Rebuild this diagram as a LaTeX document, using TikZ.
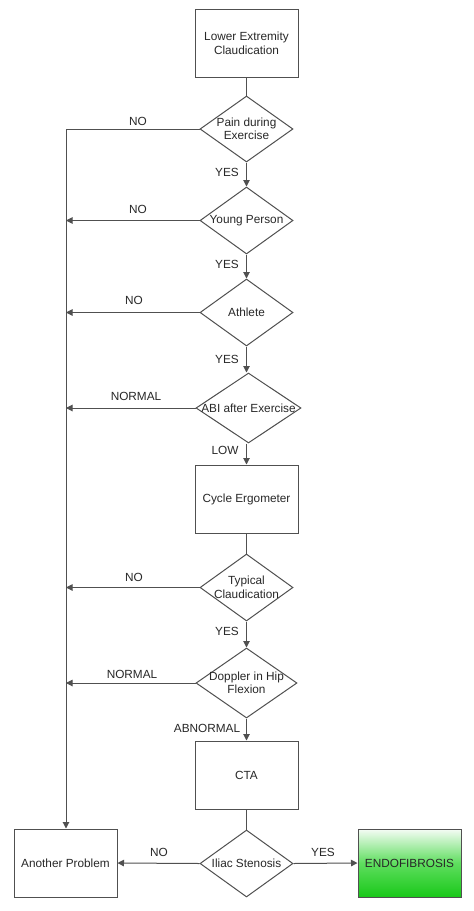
\documentclass[tikz,border=0pt]{standalone}
\usepackage{fontspec}
\setmainfont{Liberation Sans}
\usetikzlibrary{shapes.geometric,arrows.meta}
\definecolor{ln}{RGB}{80,80,80}
\definecolor{tx}{RGB}{40,40,40}
\definecolor{gtop}{RGB}{245,252,245}
\definecolor{gmid}{RGB}{95,222,95}
\definecolor{gbot}{RGB}{25,200,25}
\tikzset{
  box/.style={draw=ln,line width=1pt,minimum width=103pt,minimum height=68pt,inner sep=0pt},
  dia/.style={draw=ln,line width=1pt,diamond,inner sep=0pt,minimum width=93pt,minimum height=66pt},
  lbl/.style={text=tx,font=\fontsize{11.8}{13.5}\selectfont,inner sep=0pt,align=center},
  conn/.style={draw=ln,line width=1pt},
  arr/.style={conn,-{Triangle[length=6.5pt,width=6.5pt]}}
}
\begin{document}
\begin{tikzpicture}[x=1pt,y=-1pt]
\useasboundingbox (0,0) rectangle (474,911);
\fill[white] (0,0) rectangle (474,911);
% nodes
\node[box] (b1) at (246.5,43.5) {};
\node[lbl] (b1t) at (b1.center) {Lower Extremity\\Claudication};
\node[dia] (d1) at (246.5,129) {};
\node[lbl] (d1t) at (d1.center) {Pain during\\Exercise};
\node[dia,minimum height=67pt] (d2) at (246.5,220.5) {};
\node[lbl] (d2t) at (d2.center) {Young Person};
\node[dia,minimum height=67pt] (d3) at (246.5,312.5) {};
\node[lbl] (d3t) at (d3.center) {Athlete};
\node[dia,minimum width=105pt,minimum height=70pt] (d4) at (248.5,408) {};
\node[lbl] (d4t) at (d4.center) {ABI after Exercise};
\node[box] (b2) at (246.5,499) {};
\node[lbl] (b2t) at (b2.center) {Cycle Ergometer};
\node[dia,minimum height=67pt] (d5) at (246.5,587.5) {};
\node[lbl] (d5t) at (d5.center) {Typical\\Claudication};
\node[dia,minimum width=101pt,minimum height=70pt] (d6) at (246.5,683) {};
\node[lbl] (d6t) at (d6.center) {Doppler in Hip\\Flexion};
\node[box] (b3) at (246.5,775) {};
\node[lbl] (b3t) at (b3.center) {CTA};
\node[dia,minimum height=67pt] (d7) at (246.5,863.5) {};
\node[lbl] (d7t) at (d7.center) {Iliac Stenosis};
\node[box] (ap) at (65.5,863) {};
\node[lbl] (apt) at (ap.center) {Another Problem};
\node[box,top color=gtop,bottom color=gbot,middle color=gmid] (en) at (409.5,863) {};
\node[lbl] (ent) at (en.center) {ENDOFIBROSIS};
% left trunk coordinates
\coordinate (c1) at (66,129);
\coordinate (c2) at (66,220.5);
\coordinate (c3) at (66,312.5);
\coordinate (c4) at (66,408);
\coordinate (c5) at (66,587.5);
\coordinate (c6) at (66,683);
% vertical connectors
\draw[conn] (b1.south) -- (d1.north);
\draw[arr] (d1.south) -- (d2.north);
\draw[arr] (d2.south) -- (d3.north);
\draw[arr] (d3.south) -- (d4.north -| d3.south);
\draw[arr] (d4.south -| d3.south) -- (b2.north);
\draw[conn] (b2.south) -- (d5.north);
\draw[arr] (d5.south) -- (d6.north);
\draw[arr] (d6.south) -- (b3.north);
\draw[conn] (b3.south) -- (d7.north);
% left connectors
\draw[conn] (d1.west) -- (c1);
\draw[arr] (c1) -- (ap.north -| c1);
\draw[arr] (d2.west) -- (c2);
\draw[arr] (d3.west) -- (c3);
\draw[arr] (d4.west) -- (c4);
\draw[arr] (d5.west) -- (c5);
\draw[arr] (d6.west) -- (c6);
\draw[arr] (d7.west) -- (ap.east);
\draw[arr] (d7.east) -- (en.west);
% labels
\node[lbl] (l1) at (138,121) {NO};
\node[lbl] (l2) at (227,172) {YES};
\node[lbl] (l3) at (138,209) {NO};
\node[lbl] (l4) at (227,264) {YES};
\node[lbl] (l5) at (134,300) {NO};
\node[lbl] (l6) at (227,359) {YES};
\node[lbl] (l7) at (136,396) {NORMAL};
\node[lbl] (l8) at (225,450) {LOW};
\node[lbl] (l9) at (134,577) {NO};
\node[lbl] (l10) at (227,631) {YES};
\node[lbl] (l11) at (132,674) {NORMAL};
\node[lbl] (l12) at (207,728) {ABNORMAL};
\node[lbl] (l13) at (159,852) {NO};
\node[lbl] (l14) at (323,852) {YES};
\end{tikzpicture}
\end{document}
